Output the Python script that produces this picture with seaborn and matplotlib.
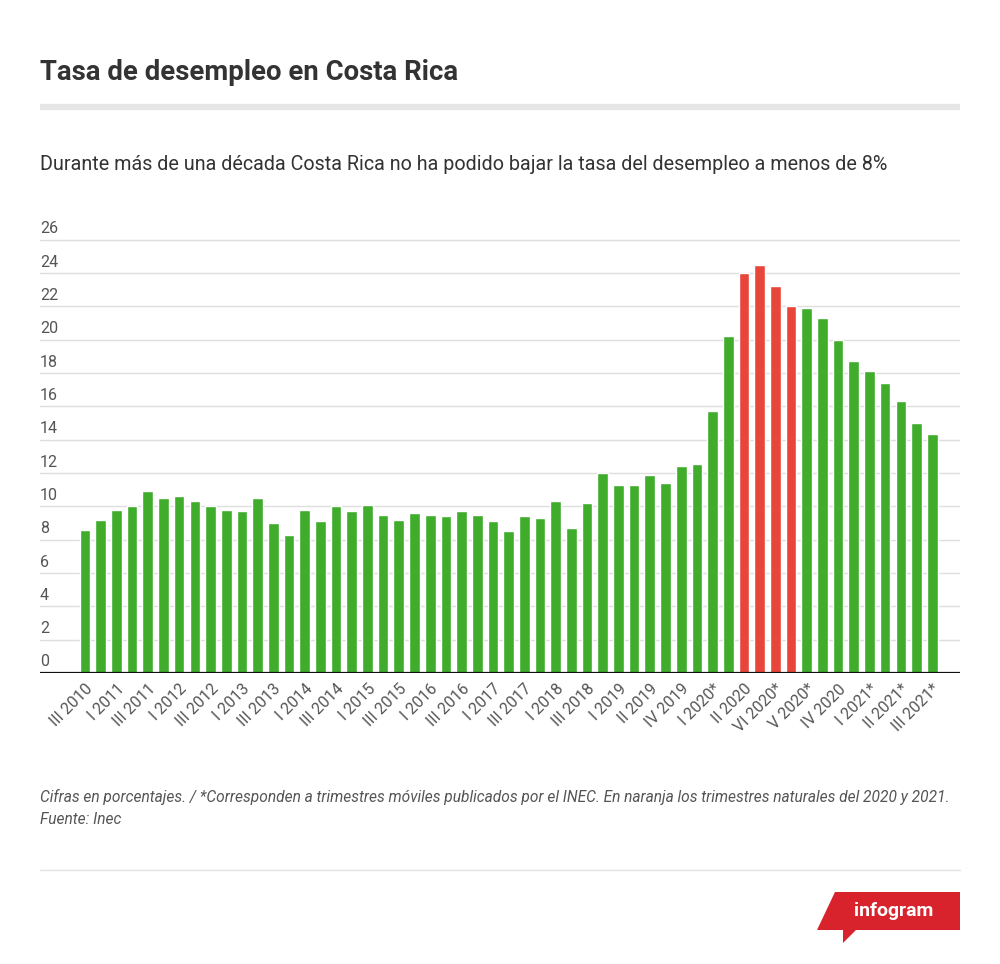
import seaborn as sns
import matplotlib.pyplot as plt
import matplotlib.transforms as mtransforms
from matplotlib.patches import Polygon
from matplotlib.lines import Line2D
import pandas as pd

# tasa de desempleo, 55 trimestres (III 2010 ... III 2021*)
values = [8.6, 9.2, 9.8, 10.0, 10.9, 10.5, 10.6, 10.3, 10.0, 9.8,
          9.7, 10.5, 9.0, 8.3, 9.8, 9.1, 10.0, 9.7, 10.1, 9.5,
          9.2, 9.6, 9.5, 9.4, 9.7, 9.5, 9.1, 8.55, 9.4, 9.3,
          10.35, 8.7, 10.2, 12.0, 11.3, 11.3, 11.9, 11.4, 12.4, 12.55,
          15.7, 20.2, 24.0, 24.5, 23.2, 22.0, 21.9, 21.3, 20.0, 18.7,
          18.1, 17.4, 16.3, 15.0, 14.35]

# trimestres naturales 2020 (en rojo)
natural_idx = [42, 43, 44, 45]

# etiquetas visibles (una de cada dos barras)
tick_labels = ["III 2010", "I 2011", "III 2011", "I 2012", "III 2012", "I 2013",
               "III 2013", "I 2014", "III 2014", "I 2015", "III 2015", "I 2016",
               "III 2016", "I 2017", "III 2017", "I 2018", "III 2018", "I 2019",
               "II 2019", "IV 2019", "I 2020*", "II 2020", "VI 2020*", "V 2020*",
               "IV 2020", "I 2021*", "II 2021*", "III 2021*"]

yticks = [0, 2, 4, 6, 8, 10, 12, 14, 16, 18, 20, 22, 24, 26]

GREEN = "#3fac2c"
RED = "#e8463b"

df = pd.DataFrame({"pos": range(len(values)), "tasa": values})
df["tipo"] = ["natural" if i in natural_idx else "movil" for i in df["pos"]]

sns.set_theme(style="white")
plt.rcParams["font.family"] = ["Roboto", "DejaVu Sans"]

fig = plt.figure(figsize=(10, 9.64), dpi=100)
ax = fig.add_axes([0.04, 0.3019, 0.92, 0.4502])

sns.barplot(data=df, x="pos", y="tasa", hue="tipo",
            palette={"movil": GREEN, "natural": RED},
            dodge=False, width=0.68, legend=False, ax=ax, saturation=1)

ax.set_xlim(-2.87, 55.77)
ax.set_ylim(0, 26.05)
for s in ax.spines.values():
    s.set_visible(False)

for v in yticks[1:]:
    ax.axhline(v, color="#dedede", lw=1, zorder=0)
ax.axhline(0, color="#111111", lw=1.6, zorder=3)

ax.set_yticks([])
trans = mtransforms.blended_transform_factory(ax.transAxes, ax.transData)
for v in yticks:
    ax.annotate(str(v), xy=(0, v), xycoords=trans, xytext=(0, 2.5),
                textcoords="offset points", ha="left", va="bottom",
                fontsize=11.5, color="#555555")

ax.set_xticks(range(0, len(values), 2))
ax.set_xticklabels(tick_labels, rotation=45, ha="right",
                   rotation_mode="anchor", fontsize=11.5, color="#555555")
ax.tick_params(axis="x", length=0, pad=6)
ax.set_xlabel("")
ax.set_ylabel("")

# cabecera
fig.text(0.04, 1 - 73 / 964, "Tasa de desempleo en Costa Rica", fontsize=19.8,
         fontweight="bold", color="#333333", va="center", ha="left")
fig.add_artist(Line2D([0.04, 0.96], [1 - 107 / 964] * 2, color="#e6e6e6",
                      lw=4.5, solid_capstyle="butt", transform=fig.transFigure))
fig.text(0.04, 1 - 165 / 964,
         "Durante más de una década Costa Rica no ha podido bajar la tasa del desempleo a menos de 8%",
         fontsize=14.2, color="#333333", va="center", ha="left")

# notas
fig.text(0.04, 1 - 797 / 964,
         "Cifras en porcentajes. / *Corresponden a trimestres móviles publicados por el INEC. "
         "En naranja los trimestres naturales del 2020 y 2021.",
         fontsize=11.2, style="italic", color="#555555", va="center", ha="left")
fig.text(0.04, 1 - 820 / 964, "Fuente: Inec", fontsize=11.2, style="italic",
         color="#555555", va="center", ha="left")
fig.add_artist(Line2D([0.04, 0.96], [1 - 870 / 964] * 2, color="#e3e3e3",
                      lw=1, transform=fig.transFigure))

# logo infogram
pts = [(835, 892), (960, 892), (960, 930), (856, 930), (843, 943),
       (843, 930), (817, 930)]
logo = Polygon([(x / 1000, 1 - y / 964) for x, y in pts], closed=True,
               facecolor="#d8222c", edgecolor="none", transform=fig.transFigure)
fig.add_artist(logo)
fig.text(0.894, 1 - 911 / 964, "infogram", fontsize=14, fontweight="bold",
         color="white", ha="center", va="center")

fig.savefig("out.png", dpi=100, facecolor="white")
